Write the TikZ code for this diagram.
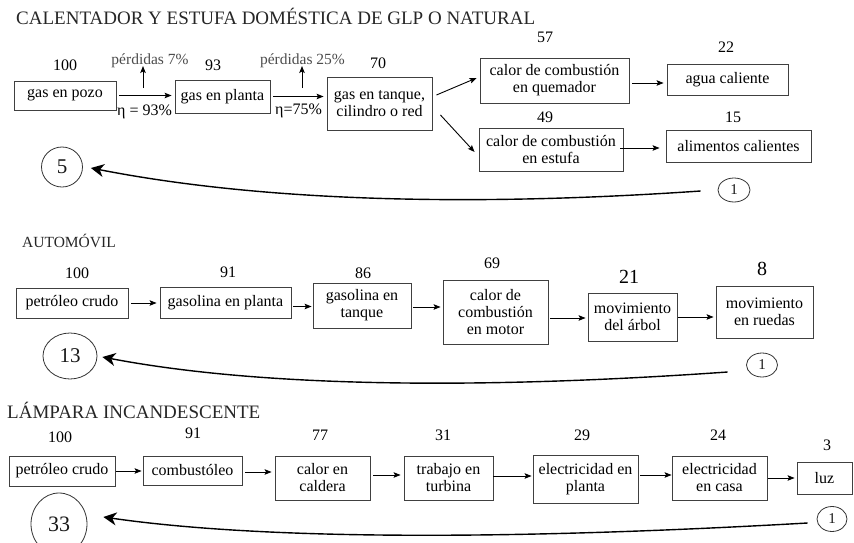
\documentclass[tikz,border=0pt]{standalone}
\usepackage{fontspec}
\setmainfont{Liberation Serif}
\usetikzlibrary{arrows.meta,shapes.geometric}
\begin{document}
\begin{tikzpicture}[x=1pt,y=-1pt,
  box/.style={draw=black!75, line width=0.9pt, inner sep=0pt, align=center,
    font=\fontsize{16}{17}\selectfont, text=black},
  num/.style={font=\fontsize{16}{18}\selectfont, inner sep=0pt, text=black},
  bignum/.style={font=\fontsize{20}{22}\selectfont, inner sep=0pt, text=black},
  loss/.style={font=\fontsize{15.5}{18}\selectfont, inner sep=0pt, text=black!70, anchor=base},
  eta/.style={font=\fontsize{16}{18}\selectfont, inner sep=0pt, text=black, anchor=base west},
  ttl/.style={inner sep=0pt, anchor=base west, text=black!85},
  arr/.style={-{Stealth[length=7pt,width=5.5pt,inset=1.5pt]}, line width=0.9pt,
    shorten <=3pt, shorten >=3pt},
  back/.style={-{Stealth[length=13pt,width=13pt,inset=4pt]}, line width=1.4pt},
  circ/.style={draw=black!80, ellipse, line width=0.8pt, inner sep=0pt, text=black!90},
]
\clip (0,0) rectangle (854,543);

% ---------------- Row 1 ----------------
\node[ttl, font=\fontsize{19}{21}\selectfont] (t1) at (16,25) {CALENTADOR Y ESTUFA DOMÉSTICA DE GLP O NATURAL};

\node[box, minimum width=102pt, minimum height=29pt] (pozo) at (65,95.5) {gas en pozo};
\node[box, minimum width=95pt, minimum height=33pt] (planta) at (222.5,96.5) {gas en planta};
\node[box, minimum width=105pt, minimum height=53pt] (tanque) at (379.5,103.5) {gas en tanque,\\cilindro o red};
\node[box, minimum width=149pt, minimum height=45pt] (quem) at (554.5,80.5) {calor de combustión\\en quemador};
\node[box, minimum width=121pt, minimum height=31pt] (agua) at (727.5,79.5) {agua caliente};
\node[box, minimum width=144pt, minimum height=43pt] (estufa) at (551,149.5) {calor de combustión\\en estufa};
\node[box, minimum width=145pt, minimum height=32pt] (alim) at (738.5,146) {alimentos calientes};

\node[num] (n100a) at (65,65) {100};
\node[num] (n93) at (213,65) {93};
\node[num] (n70) at (378,63) {70};
\node[num] (n57) at (545,37) {57};
\node[num] (n22) at (726,47) {22};
\node[num] (n49) at (545,117) {49};
\node[num] (n15) at (733,117) {15};

\node[loss] (p1) at (150,65) {pérdidas 7\%};
\node[loss] (p2) at (302.5,65) {pérdidas 25\%};
\coordinate (u1) at (143,88);
\coordinate (u2) at (302,88);
\draw[arr, shorten <=0pt, shorten >=1pt] (u1) -- (u1 |- p1.base);
\draw[arr, shorten <=0pt, shorten >=1pt] (u2) -- (u2 |- p2.base);
\node[eta] (e1) at (117,115) {η = 93\%};
\node[eta] (e2) at (275,114) {η=75\%};

\draw[arr] (pozo.east) -- (pozo.east -| planta.west);
\draw[arr] (planta.east) -- (planta.east -| tanque.west);
\draw[arr, shorten <=0pt, shorten >=0pt] ([shift={(4,-8.5)}]tanque.east) -- ([shift={(-3,-2.5)}]quem.west);
\draw[arr, shorten <=0pt, shorten >=0pt] ([shift={(8,11.5)}]tanque.east) -- ([shift={(-4,2.5)}]estufa.west);
\draw[arr] ([yshift=-2.5pt]quem.east) -- ([yshift=-2.5pt]quem.east -| agua.west);
\draw[arr, shorten <=0pt] ([shift={(-3,-1.5)}]estufa.east) -- ([shift={(-3,-1.5)}]estufa.east -| alim.west);

\node[circ, minimum width=41pt, minimum height=40pt, font=\fontsize{21}{22}\selectfont] (c5) at (62,167) {5};
\node[circ, minimum width=32pt, minimum height=24pt, font=\fontsize{15}{16}\selectfont] (c1a) at (734,190) {1};
\coordinate (s1) at ([shift={(-17,1)}]c1a.west);
\coordinate (f1) at ([shift={(8,1)}]c5.east);
\draw[back] (s1) .. controls (458,207.7) and (254,200) .. (f1);

% ---------------- Row 2 ----------------
\node[ttl, font=\fontsize{15.5}{17}\selectfont] (t2) at (22,247) {AUTOMÓVIL};

\node[box, minimum width=112pt, minimum height=30pt] (crudoA) at (72,303) {petróleo crudo};
\node[box, minimum width=131pt, minimum height=31pt] (gplanta) at (225.5,302.5) {gasolina en planta};
\node[box, minimum width=98pt, minimum height=45pt] (gtanque) at (362,305.5) {gasolina en\\tanque};
\node[box, minimum width=105pt, minimum height=64pt] (motor) at (495.5,312) {calor de\\combustión\\en motor};
\node[box, minimum width=89pt, minimum height=48pt] (arbol) at (632.5,317) {movimiento\\del árbol};
\node[box, minimum width=97pt, minimum height=52pt] (ruedas) at (764.5,312) {movimiento\\en ruedas};

\node[num] (n100b) at (77,273) {100};
\node[num] (n91a) at (228,272) {91};
\node[num] (n86) at (363,273) {86};
\node[num] (n69) at (492,263) {69};
\node[bignum] (n21) at (629,277) {21};
\node[bignum] (n8) at (762,269) {8};

\draw[arr] (crudoA.east) -- (crudoA.east -| gplanta.west);
\draw[arr, shorten <=2pt, shorten >=1pt] ([yshift=-4pt]gplanta.east) -- ([yshift=-4pt]gplanta.east -| gtanque.west);
\draw[arr, shorten <=2pt, shorten >=2pt] ([yshift=-1.5pt]gtanque.east) -- ([yshift=-1.5pt]gtanque.east -| motor.west);
\draw[arr, shorten <=2pt, shorten >=2pt] ([yshift=-6pt]motor.east) -- ([yshift=-6pt]motor.east -| arbol.west);
\draw[arr, shorten <=1pt, shorten >=2pt] (arbol.east) -- (arbol.east -| ruedas.west);

\node[circ, minimum width=54pt, minimum height=46pt, font=\fontsize{21}{22}\selectfont] (c13) at (70,356) {13};
\node[circ, minimum width=31pt, minimum height=24pt, font=\fontsize{15}{16}\selectfont] (c1b) at (762,365) {1};
\coordinate (s2) at ([shift={(-18.5,7)}]c1b.west);
\coordinate (f2) at ([shift={(5,1)}]c13.east);
\draw[back] (s2) .. controls (462,390.7) and (253,385.7) .. (f2);

% ---------------- Row 3 ----------------
\node[ttl, font=\fontsize{19}{21}\selectfont] (t3) at (7,418) {LÁMPARA INCANDESCENTE};

\node[box, minimum width=106pt, minimum height=30pt] (crudoB) at (62,471) {petróleo crudo};
\node[box, minimum width=99pt, minimum height=29pt] (comb) at (192.5,470.5) {combustóleo};
\node[box, minimum width=95pt, minimum height=44pt] (caldera) at (322.5,478) {calor en\\caldera};
\node[box, minimum width=89pt, minimum height=44pt] (turbina) at (448.5,478) {trabajo en\\turbina};
\node[box, minimum width=105pt, minimum height=48pt] (eplanta) at (585.5,479) {electricidad en\\planta};
\node[box, minimum width=95pt, minimum height=44pt] (ecasa) at (719.5,478) {electricidad\\en casa};
\node[box, minimum width=55pt, minimum height=32pt] (luz) at (824.5,478) {luz};

\node[num] (n100c) at (60,437) {100};
\node[num] (n91b) at (193,433) {91};
\node[num] (n77) at (320,435) {77};
\node[num] (n31) at (443,435) {31};
\node[num] (n29) at (582,435) {29};
\node[num] (n24) at (718,435) {24};
\node[num] (n3) at (827,445) {3};

\draw[arr, shorten <=1pt, shorten >=1pt] (crudoB.east) -- (crudoB.east -| comb.west);
\draw[arr] ([yshift=-1.5pt]comb.east) -- ([yshift=-1.5pt]comb.east -| caldera.west);
\draw[arr] ([yshift=3pt]caldera.east) -- ([yshift=3pt]caldera.east -| turbina.west);
\draw[arr, shorten <=0pt, shorten >=1pt] ([yshift=2pt]turbina.east) -- ([yshift=2pt]turbina.east -| eplanta.west);
\draw[arr, shorten <=2pt, shorten >=0pt] ([yshift=4pt]eplanta.east) -- ([yshift=4pt]eplanta.east -| ecasa.west);
\draw[arr, shorten <=1pt, shorten >=2pt] (ecasa.east) -- (ecasa.east -| luz.west);

\node[circ, minimum width=56pt, minimum height=62pt, font=\fontsize{22}{23}\selectfont] (c33) at (59,524) {33};
\node[circ, minimum width=30pt, minimum height=25pt, font=\fontsize{15}{16}\selectfont] (c1c) at (832,519) {1};
\coordinate (s3) at ([shift={(-9,4)}]c1c.west);
\coordinate (f3) at ([shift={(16,-7)}]c33.east);
\draw[back] (s3) .. controls (491,541) and (256,539) .. (f3);
\end{tikzpicture}
\end{document}
